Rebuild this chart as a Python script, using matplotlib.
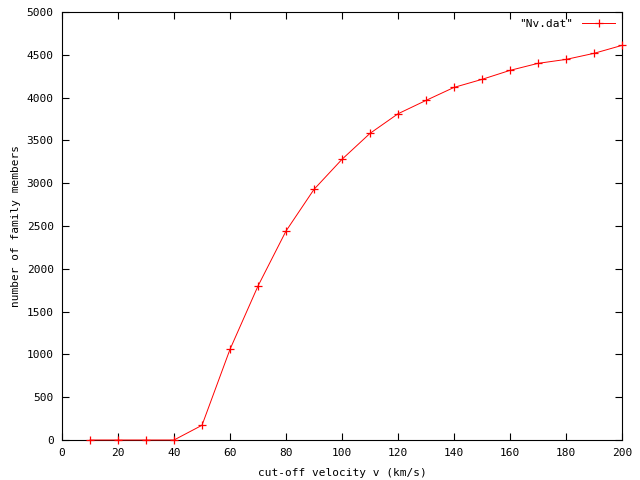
import numpy as np
import matplotlib.pyplot as plt

# Data
v = [10, 20, 30, 40, 50, 60, 70, 80, 90, 100, 110, 120, 130, 140, 150,
     160, 170, 180, 190, 200]
n = [0, 0, 0, 0, 172, 1059, 1799, 2441, 2928, 3279, 3582, 3811, 3967, 4119,
     4213, 4318, 4400, 4446, 4517, 4610]

plt.rcParams['font.family'] = 'DejaVu Sans Mono'
plt.rcParams['font.size'] = 8

fig = plt.figure(figsize=(6.4, 4.8), dpi=100)
ax = fig.add_axes([62 / 640, 40 / 480, 560 / 640, 428 / 480])

ax.plot(v, n, color='red', linewidth=0.7, marker='+', markersize=6,
        markeredgewidth=0.9, label='"Nv.dat"', clip_on=False, zorder=3)

ax.set_xlim(0, 200)
ax.set_ylim(0, 5000)
ax.set_xticks(np.arange(0, 201, 20))
ax.set_yticks(np.arange(0, 5001, 500))
ax.tick_params(direction='in', length=5, width=0.8, top=True, right=True,
               pad=6, labelsize=8)
for s in ax.spines.values():
    s.set_linewidth(0.8)

ax.set_xlabel('cut-off velocity v (km/s)', labelpad=7)
ax.set_ylabel('number of family members', labelpad=4)

ax.legend(loc='upper right', frameon=False, markerfirst=False,
          handlelength=3.0, borderaxespad=0.2, fontsize=8)

fig.savefig('out.png', dpi=100)
